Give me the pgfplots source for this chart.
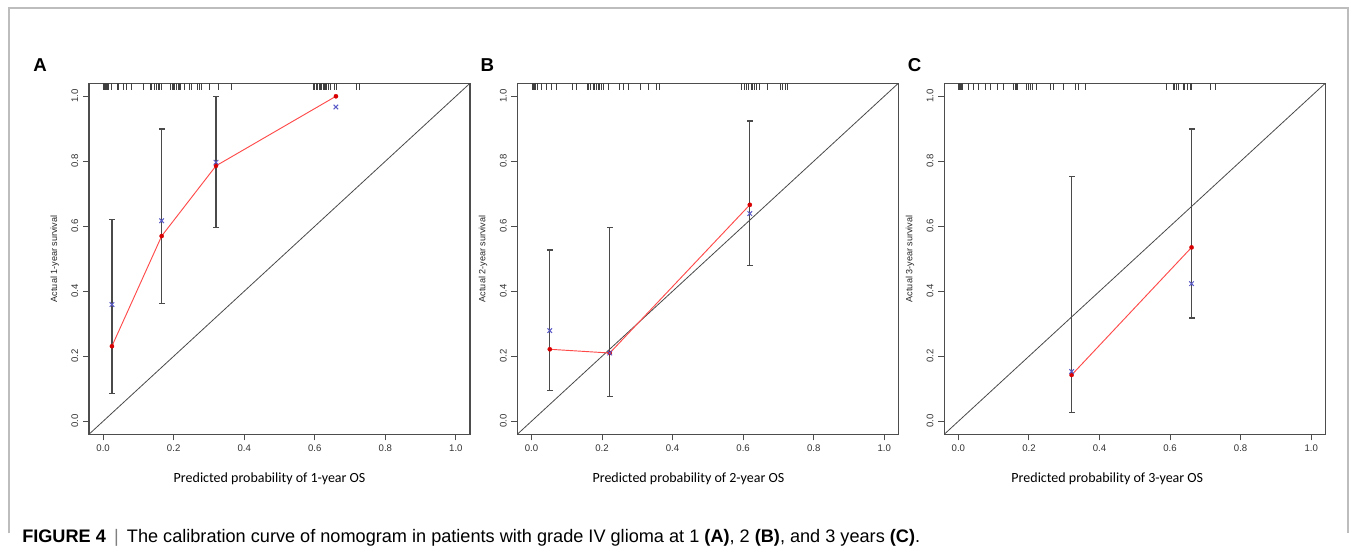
\documentclass[border=0pt]{standalone}
\usepackage{pgfplots}
\pgfplotsset{compat=1.18}
\usepackage{fontspec}
\setmainfont{Liberation Sans}
\newfontfamily\calibri{Carlito}
\definecolor{axgray}{HTML}{4D4D4D}
\definecolor{ebgray}{HTML}{4A4A4A}
\definecolor{redline}{HTML}{FF4A4A}
\definecolor{reddot}{HTML}{D80000}
\definecolor{bluex}{HTML}{5A5AC8}
\definecolor{framegray}{HTML}{BDBDBD}
\definecolor{diag}{HTML}{4A4A4A}

\pgfplotsset{calib/.style={
  scale only axis, width=285.75pt, height=263.25pt,
  xmin=-0.04, xmax=1.04, ymin=-0.04, ymax=1.04,
  xtick={0,0.2,0.4,0.6,0.8,1}, ytick={0,0.2,0.4,0.6,0.8,1},
  tick pos=left, tick align=outside, major tick length=4.5pt,
  minor tick num=0,
  axis line style={axgray, line width=0.8pt},
  every tick/.style={axgray, line width=0.75pt},
  /pgf/number format/fixed, /pgf/number format/fixed zerofill,
  /pgf/number format/precision=1, /pgf/number format/assume math mode=true,
  tick label style={font=\fontsize{7.2}{8}\selectfont, text=black!80},
  yticklabel style={rotate=90, anchor=south},
  xticklabel style={anchor=north},
  ylabel style={at={(axis description cs:-0.09,0.5)}, anchor=center, font=\fontsize{6.8}{8}\selectfont, text=black!85},
  ebar/.style={ebgray, line width=0.9pt, mark=-, mark size=2.25pt, mark options={ebgray, line width=0.9pt}, forget plot},
  rug/.style={only marks, color=black!75, mark=|, mark size=2.6pt, mark options={black!75, line width=0.45pt}},
  redl/.style={redline, line width=0.7pt, mark=none},
  redd/.style={only marks, color=reddot, mark=*, mark size=1.6pt, mark options={fill=reddot, draw=reddot, line width=0.2pt}},
  bluem/.style={only marks, color=bluex, mark=x, mark size=2.4pt, mark options={bluex, line width=0.75pt}},
  diagl/.style={diag, line width=0.6pt, mark=none},
}}

\begin{document}
\begin{tikzpicture}
\fill[white] (0,0) rectangle (1016.25pt,415.5pt);
\draw[framegray, line width=1.1pt] (6.75pt,15.75pt) -- (6.75pt,409.5pt) -- (1011pt,409.5pt) -- (1011pt,15.75pt);

% ---------------- Panel A ----------------
\begin{axis}[calib, at={(66.75pt,89.8pt)}, anchor=south west,
  xlabel={Predicted probability of 1-year OS},
  xlabel style={at={(axis description cs:0.474,-0.127)}, anchor=center, font=\calibri\fontsize{10.5}{12}\selectfont},
  ylabel={Actual 1-year survival}]
\addplot[diagl] coordinates {(-0.04,-0.04) (1.04,1.04)};
\addplot[ebar] coordinates {(0.025,0.086) (0.025,0.622)};
\addplot[ebar] coordinates {(0.166,0.363) (0.166,0.899)};
\addplot[ebar] coordinates {(0.320,0.596) (0.320,1.000)};
\addplot[redl] coordinates {(0.025,0.231) (0.166,0.570) (0.320,0.786) (0.660,1.000)};
\addplot[redd] coordinates {(0.025,0.231) (0.166,0.570) (0.320,0.786) (0.660,1.000)};
\addplot[bluem] coordinates {(0.025,0.359) (0.166,0.617) (0.320,0.797) (0.660,0.967)};
\addplot[rug] coordinates {
 (0.001,1.029) (0.003,1.029) (0.005,1.029) (0.008,1.029) (0.010,1.029) (0.013,1.029)
 (0.016,1.029) (0.022,1.029) (0.040,1.029) (0.044,1.029) (0.057,1.029) (0.066,1.029)
 (0.081,1.029) (0.113,1.029) (0.134,1.029) (0.138,1.029) (0.144,1.029) (0.151,1.029)
 (0.156,1.029) (0.160,1.029) (0.166,1.029) (0.191,1.029) (0.195,1.029) (0.199,1.029)
 (0.203,1.029) (0.207,1.029) (0.212,1.029) (0.216,1.029) (0.219,1.029) (0.231,1.029)
 (0.244,1.029) (0.250,1.029) (0.266,1.029) (0.272,1.029) (0.279,1.029) (0.301,1.029)
 (0.326,1.029) (0.362,1.029)
 (0.596,1.029) (0.600,1.029) (0.604,1.029) (0.608,1.029) (0.612,1.029) (0.615,1.029)
 (0.619,1.029) (0.623,1.029) (0.627,1.029) (0.630,1.029) (0.634,1.029) (0.638,1.029)
 (0.643,1.029) (0.656,1.029) (0.660,1.029) (0.717,1.029) (0.727,1.029)
};
\end{axis}

% ---------------- Panel B ----------------
\begin{axis}[calib, at={(388pt,89.8pt)}, anchor=south west,
  xlabel={Predicted probability of 2-year OS},
  xlabel style={at={(axis description cs:0.449,-0.127)}, anchor=center, font=\calibri\fontsize{10.5}{12}\selectfont},
  ylabel={Actual 2-year survival}]
\addplot[diagl] coordinates {(-0.04,-0.04) (1.04,1.04)};
\addplot[ebar] coordinates {(0.052,0.094) (0.052,0.527)};
\addplot[ebar] coordinates {(0.222,0.075) (0.222,0.595)};
\addplot[ebar] coordinates {(0.619,0.480) (0.619,0.924)};
\addplot[redl] coordinates {(0.052,0.2215) (0.222,0.210) (0.619,0.666)};
\addplot[redd] coordinates {(0.052,0.2215) (0.222,0.210) (0.619,0.666)};
\addplot[bluem] coordinates {(0.052,0.279) (0.222,0.210) (0.619,0.639)};
\addplot[rug] coordinates {
 (0.001,1.029) (0.003,1.029) (0.005,1.029) (0.007,1.029) (0.009,1.029) (0.012,1.029)
 (0.016,1.029) (0.028,1.029) (0.042,1.029) (0.057,1.029) (0.071,1.029) (0.116,1.029)
 (0.127,1.029) (0.158,1.029) (0.162,1.029) (0.168,1.029) (0.174,1.029) (0.179,1.029)
 (0.184,1.029) (0.189,1.029) (0.193,1.029) (0.198,1.029) (0.205,1.029) (0.217,1.029)
 (0.250,1.029) (0.261,1.029) (0.275,1.029) (0.308,1.029) (0.330,1.029) (0.354,1.029)
 (0.363,1.029)
 (0.596,1.029) (0.602,1.029) (0.608,1.029) (0.616,1.029) (0.623,1.029) (0.627,1.029)
 (0.633,1.029) (0.637,1.029) (0.646,1.029) (0.669,1.029) (0.706,1.029) (0.712,1.029)
 (0.719,1.029) (0.726,1.029)
};
\end{axis}

% ---------------- Panel C ----------------
\begin{axis}[calib, at={(708.2pt,89.8pt)}, anchor=south west,
  xlabel={Predicted probability of 3-year OS},
  xlabel style={at={(axis description cs:0.428,-0.127)}, anchor=center, font=\calibri\fontsize{10.5}{12}\selectfont},
  ylabel={Actual 3-year survival}]
\addplot[diagl] coordinates {(-0.04,-0.04) (1.04,1.04)};
\addplot[ebar] coordinates {(0.321,0.026) (0.321,0.753)};
\addplot[ebar] coordinates {(0.661,0.318) (0.661,0.899)};
\addplot[redl] coordinates {(0.321,0.1425) (0.661,0.535)};
\addplot[redd] coordinates {(0.321,0.1425) (0.661,0.535)};
\addplot[bluem] coordinates {(0.321,0.153) (0.661,0.4235)};
\addplot[rug] coordinates {
 (0.001,1.029) (0.002,1.029) (0.004,1.029) (0.007,1.029) (0.010,1.029) (0.012,1.029)
 (0.028,1.029) (0.043,1.029) (0.057,1.029) (0.075,1.029) (0.090,1.029) (0.111,1.029)
 (0.127,1.029) (0.156,1.029) (0.160,1.029) (0.163,1.029) (0.168,1.029) (0.193,1.029)
 (0.197,1.029) (0.205,1.029) (0.210,1.029) (0.220,1.029) (0.260,1.029) (0.269,1.029)
 (0.297,1.029) (0.332,1.029) (0.340,1.029) (0.361,1.029)
 (0.590,1.029) (0.609,1.029) (0.613,1.029) (0.618,1.029) (0.623,1.029) (0.637,1.029)
 (0.641,1.029) (0.648,1.029) (0.656,1.029) (0.660,1.029) (0.714,1.029) (0.727,1.029)
};
\end{axis}

% panel letters
\node[font=\bfseries\fontsize{14}{16}\selectfont] at (30pt,366.75pt) {A};
\node[font=\bfseries\fontsize{14}{16}\selectfont] at (365.6pt,366.75pt) {B};
\node[font=\bfseries\fontsize{14}{16}\selectfont] at (685.9pt,366.75pt) {C};

% caption
\node[anchor=west, font=\fontsize{13.6}{15}\selectfont, inner sep=0pt] at (16.5pt,12pt)
 {\textbf{FIGURE 4}\hspace{0.45em}{\color{black!50}|}\hspace{0.45em}The calibration curve of nomogram in patients with grade IV glioma at 1 \textbf{(A)}, 2 \textbf{(B)}, and 3 years \textbf{(C)}.};
\end{tikzpicture}
\end{document}
